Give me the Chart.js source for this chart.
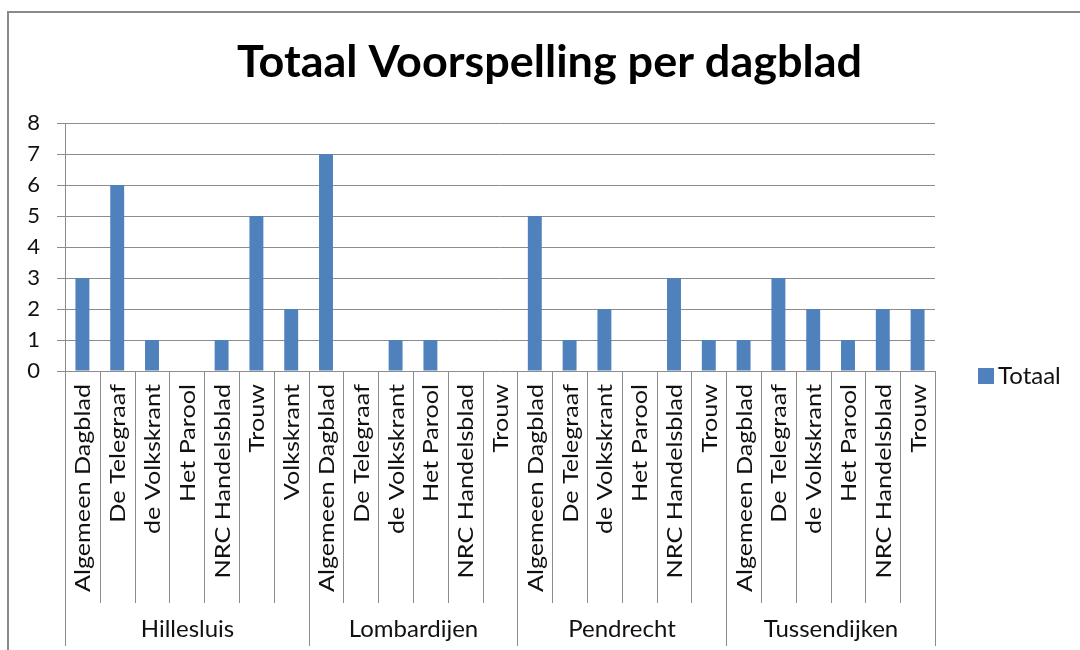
<!DOCTYPE html>
<html>
<head>
<meta charset="utf-8">
<script src="https://cdn.jsdelivr.net/npm/chart.js@4/dist/chart.umd.min.js"></script>
<style>
  html, body { margin: 0; padding: 0; background: #fff; }
  #wrap { width: 1080px; height: 650px; position: relative; }
</style>
</head>
<body>
<div id="wrap"><canvas id="c" width="1080" height="650"></canvas></div>
<script>
const chartTitle = 'Totaal Voorspelling per dagblad';
const seriesName = 'Totaal';
const papers = [
  'Algemeen Dagblad', 'De Telegraaf', 'de Volkskrant', 'Het Parool', 'NRC Handelsblad', 'Trouw', 'Volkskrant',
  'Algemeen Dagblad', 'De Telegraaf', 'de Volkskrant', 'Het Parool', 'NRC Handelsblad', 'Trouw',
  'Algemeen Dagblad', 'De Telegraaf', 'de Volkskrant', 'Het Parool', 'NRC Handelsblad', 'Trouw',
  'Algemeen Dagblad', 'De Telegraaf', 'de Volkskrant', 'Het Parool', 'NRC Handelsblad', 'Trouw'
];
const districts = [
  'Hillesluis', 'Hillesluis', 'Hillesluis', 'Hillesluis', 'Hillesluis', 'Hillesluis', 'Hillesluis',
  'Lombardijen', 'Lombardijen', 'Lombardijen', 'Lombardijen', 'Lombardijen', 'Lombardijen',
  'Pendrecht', 'Pendrecht', 'Pendrecht', 'Pendrecht', 'Pendrecht', 'Pendrecht',
  'Tussendijken', 'Tussendijken', 'Tussendijken', 'Tussendijken', 'Tussendijken', 'Tussendijken'
];
const totals = [
  3, 6, 1, 0, 1, 5, 2,
  7, 0, 1, 1, 0, 0,
  5, 1, 2, 0, 3, 1,
  1, 3, 2, 1, 2, 2
];
const yTicks = [0, 1, 2, 3, 4, 5, 6, 7, 8];

const FONT = 'Lato, "Open Sans", sans-serif';
const LINE = '#8c8c8c';

function scaledText(ctx, text, x, y, sx) {
  ctx.save();
  ctx.translate(x, y);
  ctx.scale(sx, 1);
  ctx.fillText(text, 0, 0);
  ctx.restore();
}

const excelPlugin = {
  id: 'excelDecor',
  beforeDraw(chart) {
    const ctx = chart.ctx;
    ctx.save();
    ctx.fillStyle = '#fff';
    ctx.fillRect(0, 0, chart.width, chart.height);
    ctx.strokeStyle = '#8a8a8a';
    ctx.lineWidth = 2;
    ctx.beginPath();
    ctx.moveTo(8, 650);
    ctx.lineTo(8, 12);
    ctx.lineTo(1080, 12);
    ctx.stroke();
    ctx.restore();
  },
  afterDraw(chart) {
    const ctx = chart.ctx;
    const xs = chart.scales.x;
    const area = chart.chartArea;
    ctx.save();

    // Title
    ctx.fillStyle = '#000';
    ctx.font = 'bold 43px ' + FONT;
    ctx.textAlign = 'center';
    ctx.textBaseline = 'alphabetic';
    let w = ctx.measureText(chartTitle).width;
    scaledText(ctx, chartTitle, 549.5, 77, 625 / w);

    // Category labels (rotated)
    const step = xs.getPixelForValue(1) - xs.getPixelForValue(0);
    const half = step / 2;
    ctx.font = '22px ' + FONT;
    const refW = ctx.measureText('Algemeen Dagblad').width;
    const stretch = 208 / refW;
    ctx.fillStyle = '#111';
    ctx.textAlign = 'right';
    ctx.textBaseline = 'middle';
    for (let i = 0; i < papers.length; i++) {
      const cx = xs.getPixelForValue(i);
      ctx.save();
      ctx.translate(cx + 1, 384);
      ctx.rotate(-Math.PI / 2);
      ctx.scale(stretch, 1);
      ctx.fillText(papers[i], 0, 0);
      ctx.restore();
    }

    // Separator lines
    ctx.strokeStyle = LINE;
    ctx.lineWidth = 1;
    const groupBounds = [];
    for (let i = 0; i <= papers.length; i++) {
      const bx = Math.round(i < papers.length ? xs.getPixelForValue(i) - half : xs.getPixelForValue(i - 1) + half) + 0.5;
      const isGroup = i === 0 || i === papers.length || districts[i] !== districts[i - 1];
      ctx.beginPath();
      ctx.moveTo(bx, area.bottom);
      ctx.lineTo(bx, isGroup ? 646 : 603);
      ctx.stroke();
      if (isGroup) groupBounds.push({ x: bx, i });
    }

    // Group labels
    ctx.fillStyle = '#111';
    ctx.font = '24px ' + FONT;
    ctx.textAlign = 'center';
    ctx.textBaseline = 'alphabetic';
    for (let g = 0; g < groupBounds.length - 1; g++) {
      const a = groupBounds[g], b = groupBounds[g + 1];
      ctx.fillText(districts[a.i], (a.x + b.x) / 2, 637);
    }

    // Legend
    const ds = chart.data.datasets[0];
    ctx.fillStyle = ds.backgroundColor;
    ctx.fillRect(978, 368, 16, 16);
    ctx.fillStyle = '#111';
    ctx.font = '24px ' + FONT;
    ctx.textAlign = 'left';
    ctx.textBaseline = 'alphabetic';
    ctx.fillText(ds.label, 998, 384);

    ctx.restore();
  }
};

new Chart(document.getElementById('c'), {
  type: 'bar',
  data: {
    labels: papers,
    datasets: [{
      label: seriesName,
      data: totals,
      backgroundColor: '#4F81BD',
      borderWidth: 0,
      categoryPercentage: 1,
      barPercentage: 0.4
    }]
  },
  options: {
    responsive: false,
    animation: false,
    devicePixelRatio: 1,
    layout: { padding: { top: 123, bottom: 279, left: 0, right: 145 } },
    plugins: {
      legend: { display: false },
      title: { display: false },
      tooltip: { enabled: false }
    },
    scales: {
      x: {
        offset: true,
        grid: { display: false },
        border: { display: false },
        ticks: { display: false },
        afterFit(s) { s.height = 0; }
      },
      y: {
        min: 0,
        max: 8,
        afterBuildTicks(s) { s.ticks = yTicks.map(v => ({ value: v })); },
        afterFit(s) { s.width = 65; },
        grid: { color: LINE, lineWidth: 1, tickLength: 8, drawTicks: true },
        border: { display: true, color: LINE, width: 1 },
        ticks: {
          padding: 17,
          color: '#111',
          font: { family: FONT, size: 22 }
        }
      }
    }
  },
  plugins: [excelPlugin]
});
</script>
</body>
</html>
